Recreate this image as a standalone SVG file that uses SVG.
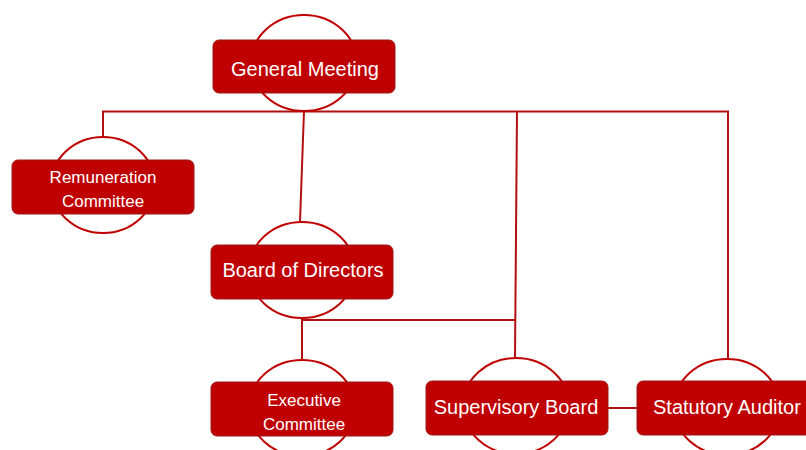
<svg xmlns="http://www.w3.org/2000/svg" width="806" height="450" viewBox="0 0 806 450">
<style>
.ell{fill:#fff;stroke:#c00000;stroke-width:2}
.box{fill:#c00000;stroke:#9a1a1a;stroke-width:1}
.lbl{fill:#fff;font-family:"Liberation Sans","Noto Sans",sans-serif;font-size:20px;text-anchor:middle}
.sm{font-size:17px}
.con{fill:none;stroke:#b01010;stroke-width:2}
</style>
<rect width="806" height="450" fill="#fff"/>
<g id="connectors">
<path class="con" d="M103 138 V111.5 H728 V359"/>
<path class="con" d="M304 111 L300 222"/>
<path class="con" d="M302 318 V360"/>
<path class="con" d="M303 320 H516"/>
<path class="con" d="M517 111 L515 358"/>
<path class="con" d="M608 408 H637"/>
</g>
<g id="general-meeting">
<ellipse class="ell" cx="304" cy="63" rx="53" ry="48"/>
<rect class="box" x="213" y="40" width="182" height="53" rx="6"/>
<text class="lbl" x="305" y="76">General Meeting</text>
</g>
<g id="remuneration-committee">
<ellipse class="ell" cx="103" cy="185" rx="52" ry="48"/>
<rect class="box" x="12" y="160" width="182" height="54" rx="6"/>
<text class="lbl sm" x="103" y="183">Remuneration</text>
<text class="lbl sm" x="103" y="207">Committee</text>
</g>
<g id="board-of-directors">
<ellipse class="ell" cx="302" cy="270" rx="53" ry="48"/>
<rect class="box" x="211" y="245" width="182" height="54" rx="6"/>
<text class="lbl" x="303" y="277">Board of Directors</text>
</g>
<g id="executive-committee">
<ellipse class="ell" cx="302" cy="408" rx="53" ry="48"/>
<rect class="box" x="211" y="382" width="182" height="54" rx="6"/>
<text class="lbl sm" x="304" y="406">Executive</text>
<text class="lbl sm" x="304" y="430">Committee</text>
</g>
<g id="supervisory-board">
<ellipse class="ell" cx="516" cy="406" rx="53" ry="48"/>
<rect class="box" x="426" y="381" width="182" height="54" rx="6"/>
<text class="lbl" x="516" y="414">Supervisory Board</text>
</g>
<g id="statutory-auditor">
<ellipse class="ell" cx="727" cy="407" rx="53" ry="48"/>
<rect class="box" x="637" y="381" width="182" height="54" rx="6"/>
<text class="lbl" x="653" y="414" style="text-anchor:start">Statutory Auditor</text>
</g>
</svg>
